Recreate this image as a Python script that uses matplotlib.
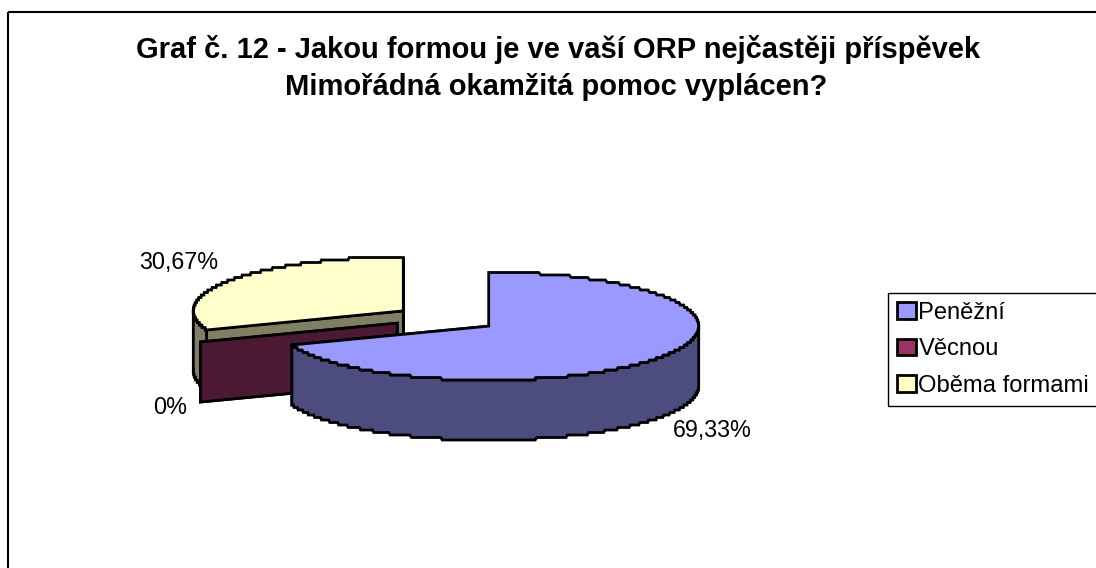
"""Graf č. 12 - Excel-style exploded 3D pie, drawn by hand on a pixel-sized axes."""
import matplotlib
matplotlib.use("Agg")
import matplotlib.pyplot as plt
import numpy as np
from matplotlib.patches import Patch, Polygon, Rectangle

plt.rcParams["font.family"] = ["Liberation Sans", "DejaVu Sans"]

# ── Data ─────────────────────────────────────────────────────────────────────
categories = ["Peněžní", "Věcnou", "Oběma formami"]
shares = [69.33, 0.0, 30.67]
value_labels = ["69,33%", "0%", "30,67%"]
top_colors = ["#9999FF", "#993366", "#FFFFCC"]
side_colors = ["#4C4C7F", "#4C1933", "#7F7F66"]
title_lines = ["Graf č. 12 - Jakou formou je ve vaší ORP nejčastěji příspěvek",
               "Mimořádná okamžitá pomoc vyplácen?"]

# ── Geometry (pixels) ────────────────────────────────────────────────────────
W, H = 1096, 568
CX, CY = 446.0, 318.5
RX, RY = 210.0, 54.0
EXPLODE = 52.0
DEPTH = 60.0
STEP = 2.5   # stair-step of the old renderer's outline


def arc(cx, cy, start, end, n=400):
    t = np.radians(np.linspace(start, end, n))
    x = cx + RX * np.cos(t)
    y = cy - RY * np.sin(t)
    return x, np.round(y / STEP) * STEP


def slice_angles():
    out, a = [], 90.0
    for s in shares:
        b = a - s * 3.6
        out.append((a, b))
        a = b
    return out


def centre(mid):
    t = np.radians(mid)
    return CX + EXPLODE * np.cos(t), CY - EXPLODE * RY / RX * np.sin(t)


def poly(ax, x, y, color, z):
    ax.add_patch(Polygon(np.column_stack([x, y]), closed=True, facecolor=color,
                         edgecolor="black", lw=2, joinstyle="miter", zorder=z))


def draw_slice(ax, i, z):
    a, b = slice_angles()[i]
    cx, cy = centre((a + b) / 2)

    # both radial walls; the top face hides whichever faces away
    for ang in (a, b):
        ex = cx + RX * np.cos(np.radians(ang))
        ey = cy - RY * np.sin(np.radians(ang))
        poly(ax, [cx, ex, ex, cx], [cy, ey, ey + DEPTH, cy + DEPTH], side_colors[i], z)
    if shares[i] == 0:
        return

    # outer wall: only the part of the rim on the lower half of the ellipse
    lo, hi = min(a, b), max(a, b)
    for rng in ((-180, 0), (-540, -360)):
        s, e = max(lo, rng[0]), min(hi, rng[1])
        if e > s:
            x, y = arc(cx, cy, s, e)
            poly(ax, np.r_[x, x[::-1]], np.r_[y, y[::-1] + DEPTH], side_colors[i], z)

    x, y = arc(cx, cy, a, b)
    poly(ax, np.r_[cx, x], np.r_[cy, y], top_colors[i], z + 0.5)


def main():
    fig = plt.figure(figsize=(W / 100, H / 100), dpi=100)
    ax = fig.add_axes([0, 0, 1, 1])
    ax.set_xlim(0, W)
    ax.set_ylim(H, 0)
    ax.axis("off")

    ax.add_patch(Rectangle((7.5, 11.5), W, H, fill=False, edgecolor="black",
                           lw=1.5, zorder=1))

    # back to front: yellow, red, blue
    draw_slice(ax, 2, 2)
    draw_slice(ax, 1, 3)
    draw_slice(ax, 0, 4)

    ax.text(558.5, 58, title_lines[0], ha="center", va="baseline",
            fontsize=21, fontweight="bold")
    ax.text(556, 95, title_lines[1], ha="center", va="baseline",
            fontsize=21, fontweight="bold")

    for txt, x, y in zip(value_labels, (712, 170, 179), (431, 408, 263)):
        ax.text(x, y, txt, ha="center", va="center", fontsize=16.8)

    handles = [Patch(facecolor=c, edgecolor="black", lw=2) for c in top_colors]
    ax.legend(handles, categories, loc="upper left", bbox_to_anchor=(888, 293),
              bbox_transform=ax.transData, frameon=True, fancybox=False,
              framealpha=1, edgecolor="black", fontsize=17.1, handlelength=0.8,
              handleheight=0.7, handletextpad=0.1, labelspacing=0.6,
              borderpad=0.38, borderaxespad=0)

    fig.savefig("out.png", dpi=100)


if __name__ == "__main__":
    main()
